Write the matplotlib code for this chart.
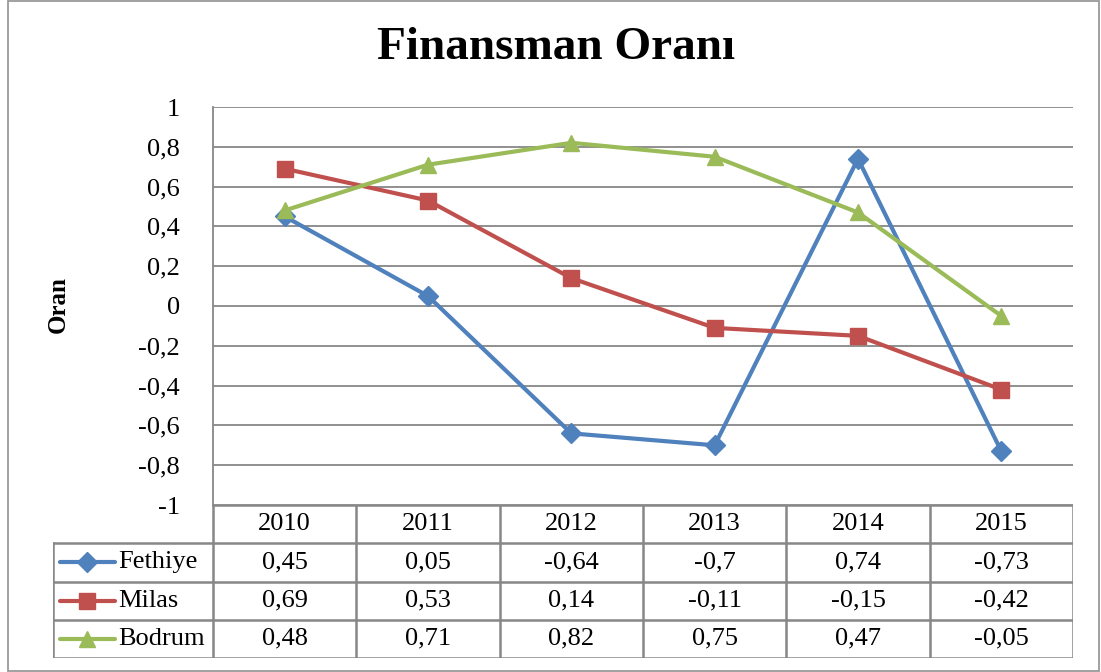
import matplotlib.pyplot as plt
from matplotlib.lines import Line2D
from matplotlib.patches import Rectangle

plt.rcParams['font.family'] = ['Liberation Serif', 'DejaVu Serif']

# Veriler
years = ['2010', '2011', '2012', '2013', '2014', '2015']
fethiye = [0.45, 0.05, -0.64, -0.7, 0.74, -0.73]
milas = [0.69, 0.53, 0.14, -0.11, -0.15, -0.42]
bodrum = [0.48, 0.71, 0.82, 0.75, 0.47, -0.05]
series_names = ['Fethiye', 'Milas', 'Bodrum']
y_ticks = [1, 0.8, 0.6, 0.4, 0.2, 0, -0.2, -0.4, -0.6, -0.8, -1]

colors = ['#4F81BD', '#C0504D', '#9BBB59']
markers = ['D', 's', '^']
msizes = [10, 11, 12]
grid_c = '#878787'


def tr(v):
    s = f"{round(v, 2):g}"
    return s.replace('.', ',')


W, H = 1101, 672
fig = plt.figure(figsize=(W / 100, H / 100), dpi=100)

# dış çerçeve
fig.patches.append(Rectangle((8 / W, 1 / H), (1099 - 8) / W, (671 - 1) / H,
                             transform=fig.transFigure, fill=False,
                             edgecolor='#9a9a9a', linewidth=1.3))

# ana grafik alanı
left, right, top, bottom = 213, 1073, 107, 505
ax = fig.add_axes([left / W, (H - bottom) / H, (right - left) / W, (bottom - top) / H])
x = list(range(len(years)))
all_series = [fethiye, milas, bodrum]
for vals, c, m, ms in zip(all_series, colors, markers, msizes):
    ax.plot(x, vals, color=c, linewidth=3, marker=m, markersize=ms,
            markerfacecolor=c, markeredgecolor=c, zorder=3, clip_on=False)

ax.set_xlim(-0.5, len(years) - 0.5)
ax.set_ylim(-1, 1)
ax.set_yticks(y_ticks)
ax.set_yticklabels([tr(v) for v in y_ticks], fontsize=19)
ax.tick_params(axis='y', length=0, pad=24)
ax.set_xticks([])
for yv in y_ticks:
    ax.axhline(yv, color=grid_c, linewidth=1.3, zorder=1)
for s in ['top', 'right', 'bottom']:
    ax.spines[s].set_visible(False)
ax.spines['left'].set_color(grid_c)
ax.spines['left'].set_linewidth(1.3)

fig.text(556 / W, 1 - 48 / H, 'Finansman Oranı', fontsize=34, fontweight='bold',
         ha='center', va='center')
fig.text(58 / W, 1 - 305 / H, 'Oran', fontsize=18, fontweight='bold',
         rotation=90, ha='center', va='center')

# veri tablosu
t_left, t_top, t_bottom = 53, 505, 658
tab = fig.add_axes([t_left / W, (H - t_bottom) / H, (right - t_left) / W, (t_bottom - t_top) / H])
col_w = (right - left) / len(years)
leg_w = (left - t_left) / col_w
x0 = -0.5 - leg_w
tab.set_xlim(x0, len(years) - 0.5)
tab.set_ylim(4, 0)
tab.axis('off')
lk = dict(color=grid_c, linewidth=1.8, solid_capstyle='projecting')

# yatay çizgiler
tab.plot([-0.5, len(years) - 0.5], [0, 0], **lk)
for r in [1, 2, 3, 4]:
    tab.plot([x0, len(years) - 0.5], [r, r], **lk)
# dikey çizgiler
tab.plot([x0, x0], [1, 4], **lk)
for i in range(len(years) + 1):
    tab.plot([i - 0.5, i - 0.5], [0, 4], **lk)

for i, yr in enumerate(years):
    tab.text(i, 0.5, yr, ha='center', va='center', fontsize=19)
for r, (name, vals, c, m, ms) in enumerate(zip(series_names, all_series, colors, markers, msizes), start=1):
    for i, v in enumerate(vals):
        tab.text(i, r + 0.5, tr(v), ha='center', va='center', fontsize=19)
    lx0 = x0 + 7 / col_w
    lx1 = x0 + 62 / col_w
    tab.plot([lx0, lx1], [r + 0.5, r + 0.5], color=c, linewidth=3, solid_capstyle='round')
    tab.plot([(lx0 + lx1) / 2], [r + 0.5], marker=m, markersize=ms, color=c)
    tab.text(x0 + 65 / col_w, r + 0.5, name, ha='left', va='center', fontsize=19)

fig.savefig('out.png', dpi=100)
